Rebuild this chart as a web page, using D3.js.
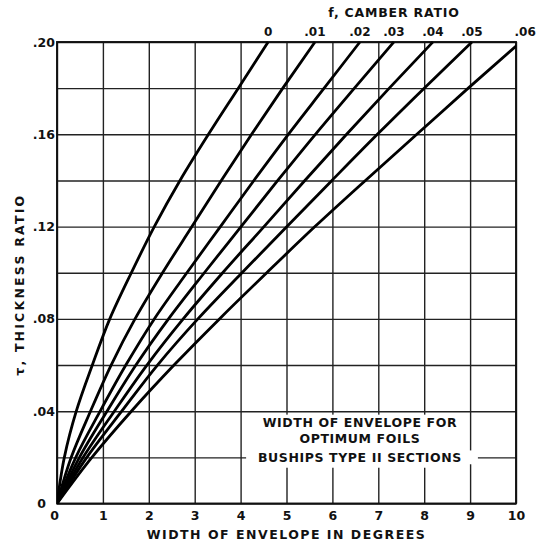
<!DOCTYPE html>
<html><head><meta charset="utf-8">
<script src="https://cdn.jsdelivr.net/npm/d3@7"></script>
<style>
html,body{margin:0;padding:0;background:#fff;}
text{font-family:"DejaVu Sans",sans-serif;font-weight:bold;fill:#111;}
</style></head>
<body><svg id="c" width="548" height="544"></svg>
<script>
// thickness ratio levels at which widths were read
const thicknessLevels = [0, .02, .04, .06, .08, .10, .12, .14, .16, .18, .20];
const camberLabels = ["0", ".01", ".02", ".03", ".04", ".05", ".06"];
// width of envelope (degrees) for each camber ratio at each thickness level
const widthF000 = [0, 0.16, 0.42, 0.77, 1.15, 1.62, 2.12, 2.68, 3.30, 3.95, 4.60];
const widthF001 = [0, 0.31, 0.73, 1.18, 1.70, 2.30, 2.94, 3.58, 4.24, 4.92, 5.62];
const widthF002 = [0, 0.41, 0.94, 1.50, 2.12, 2.83, 3.56, 4.29, 5.04, 5.82, 6.60];
const widthF003 = [0, 0.49, 1.09, 1.72, 2.43, 3.21, 4.01, 4.81, 5.63, 6.48, 7.34];
const widthF004 = [0, 0.57, 1.25, 1.96, 2.75, 3.61, 4.51, 5.40, 6.31, 7.24, 8.19];
const widthF005 = [0, 0.65, 1.41, 2.19, 3.07, 4.03, 5.01, 5.99, 6.98, 8.00, 9.04];
const widthF006 = [0, 0.76, 1.62, 2.55, 3.54, 4.57, 5.62, 6.72, 7.84, 8.96, 10.10];
const xTickValues = [0,1,2,3,4,5,6,7,8,9,10];
const xTickLabels = ["0","1","2","3","4","5","6","7","8","9","10"];
const yGridValues = [0,.02,.04,.06,.08,.10,.12,.14,.16,.18,.20];
const yTickLabels = ["0","",".04","",".08","",".12","",".16","",".20"];
const noteLines = ["WIDTH OF ENVELOPE FOR","OPTIMUM FOILS","BUSHIPS TYPE II SECTIONS"];

const series = [widthF000,widthF001,widthF002,widthF003,widthF004,widthF005,widthF006];

const svg = d3.select("#c");
const L=57, R=516, T=42, B=503.5;
const x = d3.scaleLinear().domain([0,10]).range([L,R]);
const y = d3.scaleLinear().domain([0,.2]).range([B,T]);

// grid
const gx = svg.append("g").attr("transform",`translate(0,${B})`)
  .call(d3.axisBottom(x).tickValues(xTickValues).tickSize(-(B-T)).tickFormat(""));
gx.select(".domain").remove();
gx.selectAll("line").attr("stroke","#222").attr("stroke-width",1.4);
const gy = svg.append("g").attr("transform",`translate(${L},0)`)
  .call(d3.axisLeft(y).tickValues(yGridValues).tickSize(-(R-L)).tickFormat(""));
gy.select(".domain").remove();
gy.selectAll("line").attr("stroke","#222").attr("stroke-width",1.4);

svg.append("rect").attr("x",L).attr("y",T).attr("width",R-L).attr("height",B-T)
  .attr("fill","none").attr("stroke","#111").attr("stroke-width",1.9);

// curves
svg.append("clipPath").attr("id","clip").append("rect")
  .attr("x",L).attr("y",T-1).attr("width",R-L).attr("height",B-T+1);
const line = d3.line().x(d=>x(d[0])).y(d=>y(d[1])).curve(d3.curveMonotoneY);
svg.append("g").attr("clip-path","url(#clip)").selectAll("path").data(series).join("path")
  .attr("d",s=>line(s.map((w,i)=>[w,thicknessLevels[i]])))
  .attr("fill","none").attr("stroke","#000").attr("stroke-width",2.8);

// note box
svg.append("rect").attr("x",x(4.12)).attr("y",y(.0385)).attr("width",x(8.95)-x(4.12))
  .attr("height",y(.0155)-y(.0385)).attr("fill","#fff");
svg.append("rect").attr("x",x(8.9)).attr("y",y(.023)).attr("width",x(9.17)-x(8.9))
  .attr("height",y(.017)-y(.023)).attr("fill","#fff");
const noteY = [.0351,.0280,.0200];
svg.append("g").selectAll("text").data(noteLines).join("text")
  .attr("x",x(6.6)).attr("y",(d,i)=>y(noteY[i])).attr("dy","0.36em")
  .attr("text-anchor","middle").attr("font-size",12.5).attr("letter-spacing",0.6).text(d=>d);

// x tick labels
const xl = svg.append("g").attr("transform",`translate(0,${B})`)
  .call(d3.axisBottom(x).tickValues(xTickValues).tickSize(0).tickPadding(8).tickFormat((d,i)=>xTickLabels[i]));
xl.select(".domain").remove();
xl.selectAll("text").attr("font-size",12.5).style("font-family","DejaVu Sans").style("font-weight","bold")
  .attr("dx",(d)=>d===0?-3:0);

// y tick labels
const yl = svg.append("g").attr("transform",`translate(${L},0)`)
  .call(d3.axisLeft(y).tickValues(yGridValues).tickSize(0).tickPadding(2).tickFormat((d,i)=>yTickLabels[i]));
yl.select(".domain").remove();
yl.selectAll("text").attr("font-size",12.5).style("font-family","DejaVu Sans").style("font-weight","bold")
  .attr("dx",(d)=>d===0?-9:0).attr("dy","0.32em");

// camber labels at top ends
svg.append("g").selectAll("text").data(series).join("text")
  .attr("x",(s,i)=>i===6?x(10.2):x(s[s.length-1]))
  .attr("y",T-6).attr("text-anchor","middle").attr("font-size",12)
  .text((s,i)=>camberLabels[i]);

svg.append("text").attr("x",394).attr("y",17).attr("text-anchor","middle")
  .attr("font-size",12.5).attr("letter-spacing",0.8).text("f, CAMBER RATIO");
svg.append("text").attr("x",x(5)).attr("y",539).attr("text-anchor","middle")
  .attr("font-size",12.5).attr("letter-spacing",1.5).text("WIDTH OF ENVELOPE IN DEGREES");
svg.append("text").attr("transform",`translate(24,${(T+B)/2+12}) rotate(-90)`)
  .attr("text-anchor","middle").attr("font-size",12.5).attr("letter-spacing",2.2).text("τ, THICKNESS RATIO");
</script></body></html>
